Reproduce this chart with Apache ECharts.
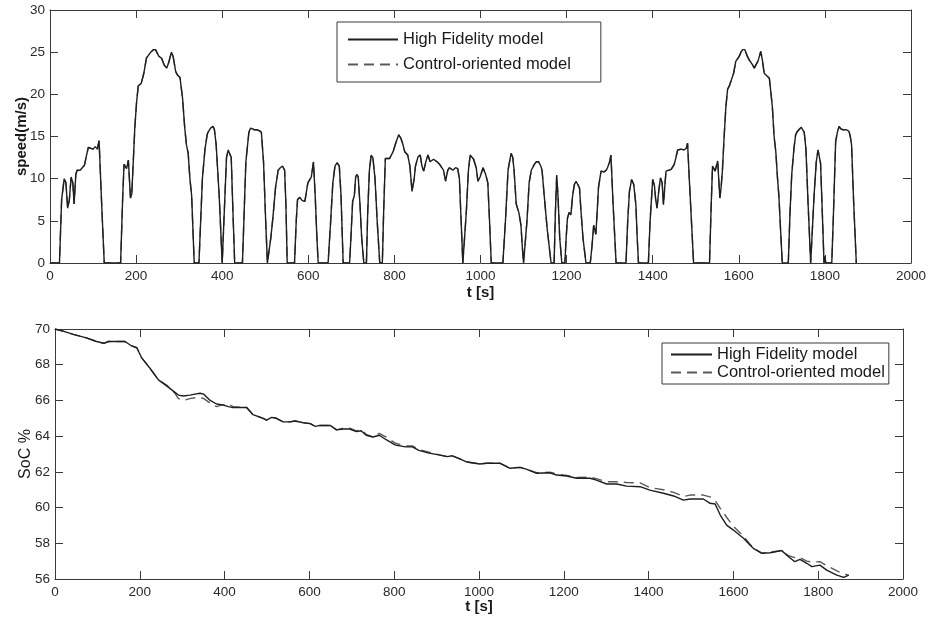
<!DOCTYPE html>
<html>
<head>
<meta charset="utf-8">
<script src="https://cdn.jsdelivr.net/npm/echarts@6/dist/echarts.min.js"></script>
<style>
html,body{margin:0;padding:0;background:#fff;}
#chart{width:929px;height:619px;}
</style>
</head>
<body>
<div id="chart"></div>
<script>
// ---- Data ----
var seriesNames = ['High Fidelity model', 'Control-oriented model'];

// Speed profile (both models coincide)
var speedTime = [0,22,27,33,37,41,45,49,53,56,60,63,70,75,80,85,89,95,100,105,110,114,120,126,
164,169,172,176,178,182,187,190,197,201,205,209,212,218,224,228,234,240,245,249,253,259,265,271,276,282,286,292,296,302,308,313,317,321,325,329,335,
346,350,354,360,365,367,373,379,382,386,393,400,404,410,414,418,421,425,429,
447,451,455,462,466,470,475,480,486,491,496,501,505,509,513,518,524,530,535,540,545,548,551,
568,572,575,580,586,592,599,607,612,616,620,623,646,652,657,662,667,672,676,681,
696,699,703,707,710,713,716,720,724,729,735,738,742,746,750,755,760,766,
772,775,779,783,789,797,803,810,815,819,824,831,836,841,846,849,855,860,864,868,873,878,883,886,891,899,905,909,914,919,924,928,936,942,947,951,955,959,
963,967,972,976,980,984,990,994,999,1006,1012,1017,1021,1025,
1052,1058,1064,1071,1075,1078,1083,1089,1094,1097,1100,1104,1108,1113,1118,1125,1130,1135,1140,1143,1148,1155,1164,
1171,1174,1177,1180,1184,1189,1196,1199,1202,1206,1210,1214,1218,1222,1226,1230,1233,1238,1245,
1255,1259,1263,1268,1271,1274,1280,1287,1292,1295,1300,1303,1308,1315,
1338,1342,1346,1351,1356,1361,1364,1367,
1390,1394,1400,1404,1407,1410,1414,1418,1422,1425,1428,1431,1437,1443,1450,1454,1458,1462,1466,1470,1473,1478,1481,1486,1491,1495,
1532,1536,1539,1542,1545,1548,1551,1556,1559,1562,1566,1570,1574,1578,1582,1588,1593,1597,1601,1605,1609,1614,1620,1624,1628,1632,1636,1640,1645,1651,1655,1659,1665,1671,1675,1678,1682,1686,1690,1693,1697,1701,
1715,1719,1723,1728,1732,1736,1740,1745,1749,1752,1756,1761,1767,
1771,1775,1780,1784,1787,1790,1794,1798,1800,1802,
1816,1820,1825,1829,1833,1837,1842,1850,1856,1859,1862,1867,1873];
var speedValues = [0,0,7.5,10,9.5,6.5,7.5,10.2,9.5,7,10.5,11,11,11.3,11.6,12.8,13.7,13.6,13.5,13.8,13.5,14.5,7,0,
0,8,11.7,11.5,11.2,12.2,7.7,8.2,16,19,21,21,21.3,22.5,24.3,24.5,25,25.3,25.3,25.1,24.5,24.3,23.5,23.1,23.8,25,24.5,22.7,22.3,22,19.5,16,14,13,10,8,0,
0,5,10,13.5,15.2,15.5,16,16.2,15.8,14,8,0,5,12.5,13.4,13.2,12.5,6,0,
0,6,12,15.5,16,16.1,15.8,15.8,15.7,15.5,12,5,0,0,3,5.5,9,11,11.3,11.5,11,7,0,
0,5,7.5,7.8,7.4,7.3,9.5,10.2,12,8,3,0,0,5,9.5,11.5,11.9,11.5,8,0,
0,3,7.3,8,10.2,10.5,10.2,7,3,0,0,6,11,12.8,12.5,10,5,0,
0,6,12.4,12.6,12.4,13.2,14.2,15.2,14.8,14.2,13.2,12.8,11.5,8.5,10,11.5,12.6,12.8,11.5,10.9,12,12.8,12,11.9,12.3,12,11.7,11.5,11,9.7,11,11.3,11,11.3,11.2,10,5,0,
0,6,11,12.8,12.6,12.3,11.3,9.7,10.2,11.3,10.5,9.5,5,0,
0,5,11,13,12.5,11,7,6,4.5,2,0,0,5,9.5,11,11.7,12,12,11.5,11,8,4,0,
0,6,10.4,8,3,0,0,3,5.3,6,5.7,8,9.3,9.7,9.6,8.9,6.5,3,0,
0,2,4.5,3.4,6,8.9,10.9,10.8,11,11.3,12,12.8,7,0,
0,5,8.5,9.9,9.3,6.9,3,0,
0,5,9.9,9.2,7.5,6.5,8.5,10.1,9.5,6.9,9,10.9,11,11.1,11.7,12.5,13.4,13.6,13.5,13.7,13.4,13.6,14.2,9,4,0,
0,7,11.5,11.3,10.9,11.5,12.1,7.7,9,11,15,18.5,20.6,21,21.1,22.5,23.9,24.2,24.5,25,25.3,25.3,24.5,24.1,24,23.5,23.1,23,24,25.1,24,22.5,22.2,21.9,20,18.5,15,13.2,10,8.1,4,0,
0,6,10.5,13.5,15.2,15.6,15.8,16.1,16.2,15.5,13.5,7,0,
0,8.1,12,13.4,13.2,11.8,6,0,0.8,0,
0,6,14.4,15.5,16.2,15.9,15.8,15.8,15.6,15,14,7,0];

// State of charge
var socTime = [0,23,43,74,98,115,126,165,181,193,204,224,244,264,283,291,303,318,330,342,351,366,381,395,409,420,452,467,491,499,511,522,538,554,566,586,602,614,625,649,664,680,695,711,722,734,750,765,781,803,827,843,858,882,906,925,937,952,972,1002,1018,1050,1073,1097,1113,1136,1167,1183,1207,1230,1262,1277,1301,1325,1348,1380,1403,1435,1459,1482,1498,1529,1545,1557,1569,1584,1600,1615,1624,1639,1647,1667,1687,1714,1730,1745,1757,1773,1785,1804,1820,1844,1860,1872];
var socHF = [70,69.85,69.7,69.5,69.3,69.2,69.3,69.3,69.05,68.95,68.4,67.8,67.15,66.8,66.45,66.3,66.25,66.3,66.35,66.4,66.35,66,65.8,65.75,65.65,65.6,65.6,65.2,65,64.9,65.05,65,64.8,64.8,64.85,64.75,64.7,64.55,64.6,64.6,64.35,64.4,64.4,64.25,64.3,64.05,63.95,64.05,63.8,63.5,63.4,63.4,63.2,63.05,62.95,62.85,62.9,62.75,62.55,62.44,62.48,62.48,62.2,62.25,62.14,61.92,61.95,61.82,61.77,61.64,61.64,61.54,61.32,61.32,61.2,61.17,60.98,60.8,60.65,60.42,60.48,60.48,60.24,60.2,59.58,59.02,58.74,58.45,58.28,57.9,57.72,57.44,57.47,57.59,57.25,56.97,57.1,56.88,56.69,56.78,56.5,56.22,56.09,56.22];
var socCO = [70,69.85,69.7,69.5,69.3,69.2,69.3,69.3,69.05,68.95,68.4,67.8,67.15,66.85,66.4,66.1,66,66.1,66.15,66.15,66.1,65.85,65.65,65.75,65.8,65.65,65.6,65.2,65,64.9,65.05,65,64.8,64.8,64.85,64.75,64.7,64.55,64.6,64.6,64.35,64.45,64.45,64.3,64.35,64.1,63.95,64.15,63.95,63.6,63.45,63.45,63.25,63.1,62.95,62.85,62.9,62.75,62.55,62.44,62.48,62.48,62.22,62.25,62.14,61.95,61.98,61.88,61.8,61.68,61.7,61.62,61.45,61.45,61.4,61.38,61.12,61,60.85,60.62,60.7,60.7,60.6,60.4,59.95,59.46,58.95,58.6,58.4,57.95,57.75,57.45,57.5,57.6,57.3,57.2,57.2,57,56.95,56.97,56.75,56.45,56.28,56.22];

// Axis tick settings
var tTicks = {min: 0, max: 2000, interval: 200};
var speedTicks = {min: 0, max: 30, interval: 5};
var socTicks = {min: 56, max: 70, interval: 2};

// ---- Build chart ----
function pairs(xs, ys) { return xs.map(function (x, i) { return [x, ys[i]]; }); }
function plain(v) { return String(v); }

var FONT = 'Liberation Sans, Arial, Helvetica, sans-serif';
var AX = '#3a3a3a';
var LBL_COLOR = '#2a2a2a', LBL_SIZE = 13.5;
var HF_COLOR = '#1e1e1e', CO_COLOR = '#5a5a5a';

function xAx(gi, pos, ticks, showLabel, name, nameGap) {
  return {
    type: 'value', gridIndex: gi, position: pos, min: ticks.min, max: ticks.max, interval: ticks.interval,
    axisLine: {show: true, onZero: false, lineStyle: {color: AX, width: 1}},
    axisTick: {show: true, inside: true, length: 8, lineStyle: {color: AX}},
    axisLabel: {show: showLabel, margin: 6, formatter: plain, color: LBL_COLOR, fontSize: LBL_SIZE, fontFamily: FONT},
    splitLine: {show: false},
    name: name || '', nameLocation: 'middle', nameGap: nameGap || 0, nameMoveOverlap: false,
    nameTextStyle: {color: '#1a1a1a', fontSize: 15, fontWeight: 'bold', fontFamily: FONT}
  };
}
function yAx(gi, pos, ticks, showLabel, name, nameGap, bold, nameSize) {
  return {
    type: 'value', gridIndex: gi, position: pos, min: ticks.min, max: ticks.max, interval: ticks.interval,
    axisLine: {show: true, onZero: false, lineStyle: {color: AX, width: 1}},
    axisTick: {show: true, inside: true, length: 8, lineStyle: {color: AX}},
    axisLabel: {show: showLabel, margin: 5, formatter: plain, color: LBL_COLOR, fontSize: LBL_SIZE, fontFamily: FONT},
    splitLine: {show: false},
    name: name || '', nameLocation: 'middle', nameGap: nameGap || 0, nameRotate: 90, nameMoveOverlap: false,
    nameTextStyle: {color: '#1a1a1a', fontSize: nameSize || 15, fontWeight: bold ? 'bold' : 'normal', fontFamily: FONT}
  };
}

var legendBase = {
  data: seriesNames, orient: 'vertical', itemHeight: 14,
  borderColor: '#3a3a3a', borderWidth: 1, backgroundColor: '#fff',
  itemStyle: {opacity: 0, borderWidth: 0},
  textStyle: {color: '#1a1a1a', fontSize: 16.5, fontFamily: FONT, lineHeight: 16},
  selectedMode: false
};

var option = {
  backgroundColor: '#ffffff',
  animation: false,
  grid: [
    {left: 50, top: 10, width: 862, height: 253},
    {left: 55, top: 329, width: 848, height: 250}
  ],
  xAxis: [
    xAx(0, 'bottom', tTicks, true, 't [s]', 22),
    xAx(0, 'top', tTicks, false),
    xAx(1, 'bottom', tTicks, true, 't [s]', 20),
    xAx(1, 'top', tTicks, false)
  ],
  yAxis: [
    yAx(0, 'left', speedTicks, true, 'speed(m/s)', 21, true, 15),
    yAx(0, 'right', speedTicks, false),
    yAx(1, 'left', socTicks, true, 'SoC %', 21, false, 16),
    yAx(1, 'right', socTicks, false)
  ],
  legend: [
    Object.assign({}, legendBase, {
      left: 337, top: 22, padding: [9, 30, 9, 10], itemGap: 8, itemWidth: 50
    }),
    Object.assign({}, legendBase, {
      left: 662, top: 343, padding: [3, 4, 3, 8], itemGap: 1, itemWidth: 41
    })
  ],
  series: [
    {
      name: seriesNames[1], type: 'line', xAxisIndex: 0, yAxisIndex: 0, showSymbol: false, symbol: 'none',
      data: pairs(speedTime, speedValues), color: CO_COLOR,
      lineStyle: {color: CO_COLOR, width: 1.4, type: [10, 6]}, z: 2
    },
    {
      name: seriesNames[0], type: 'line', xAxisIndex: 0, yAxisIndex: 0, showSymbol: false, symbol: 'none',
      data: pairs(speedTime, speedValues), color: HF_COLOR,
      lineStyle: {color: HF_COLOR, width: 1.4, type: 'solid'}, z: 3
    },
    {
      name: seriesNames[1], type: 'line', xAxisIndex: 2, yAxisIndex: 2, showSymbol: false, symbol: 'none',
      data: pairs(socTime, socCO), color: CO_COLOR,
      lineStyle: {color: CO_COLOR, width: 1.4, type: [10, 6]}, z: 2
    },
    {
      name: seriesNames[0], type: 'line', xAxisIndex: 2, yAxisIndex: 2, showSymbol: false, symbol: 'none',
      data: pairs(socTime, socHF), color: HF_COLOR,
      lineStyle: {color: HF_COLOR, width: 1.4, type: 'solid'}, z: 3
    }
  ]
};

var chart = echarts.init(document.getElementById('chart'), null, {renderer: 'canvas'});
chart.setOption(option);
</script>
</body>
</html>
